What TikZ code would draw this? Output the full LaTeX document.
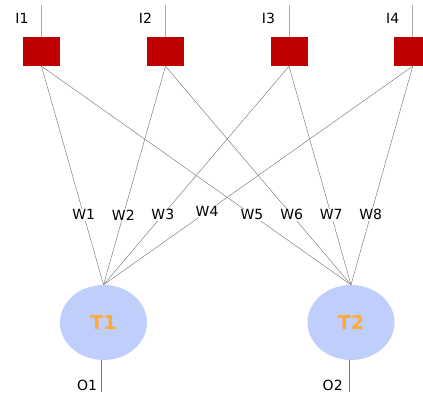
\documentclass[tikz,border=0pt]{standalone}
\usepackage{fontspec}
\setmainfont{DejaVu Sans}
\usetikzlibrary{shapes.geometric}
\definecolor{unitred}{RGB}{190,0,0}
\definecolor{cellblue}{RGB}{192,206,252}
\definecolor{cellorange}{RGB}{255,170,50}
\definecolor{wire}{RGB}{120,120,120}
\definecolor{lead}{RGB}{170,170,170}
\begin{document}
\begin{tikzpicture}[x=1pt,y=-1pt,
  inunit/.style={draw=none,fill=unitred,minimum width=37pt,minimum height=29pt,inner sep=0pt},
  cell/.style={ellipse,fill=cellblue,minimum width=87pt,minimum height=75pt,inner sep=0pt,
    font=\fontsize{19}{21}\selectfont\bfseries,text=cellorange},
  lbl/.style={font=\fontsize{14}{16}\selectfont,inner sep=0.5pt},
  wlbl/.style={lbl,fill=white,inner sep=1pt},
  link/.style={draw=wire,line width=0.45pt},
  leadline/.style={draw=lead,line width=0.9pt},
  outline/.style={draw=wire,line width=0.9pt}]
\useasboundingbox (0,0) rectangle (423,396);
\begin{scope}
\clip (0,0) rectangle (423,396);
% input units
\node[inunit] (u1) at (41.5,51.5) {};
\node[inunit] (u2) at (165.5,51.5) {};
\node[inunit] (u3) at (289,51.5) {};
\node[inunit] (u4) at (412.7,51.5) {};
% input leads
\foreach \i in {1,...,4} {
  \coordinate (t\i) at ([yshift=32pt]u\i.north);
  \draw[leadline] (t\i) -- (u\i.north);
}
\node[lbl] (l1) at (22,18) {I1};
\node[lbl] (l2) at (145.5,18) {I2};
\node[lbl] (l3) at (268.5,18) {I3};
\node[lbl] (l4) at (392.7,18) {I4};
% output cells
\node[cell] (c1) at (103.5,322.5) {T1};
\node[cell] (c2) at (351,322.5) {T2};
% weighted links, each weight sits on its own link
\draw[link] (u1.south) -- node[wlbl,pos=0.68] (w1) {W1} (c1.north);
\draw[link] (u2.south) -- node[wlbl,pos=0.68] (w2) {W2} (c1.north);
\draw[link] (u3.south) -- node[wlbl,pos=0.68] (w3) {W3} (c1.north);
\draw[link] (u4.south) -- node[wlbl,pos=0.665] (w4) {W4} (c1.north);
\draw[link] (u1.south) -- node[wlbl,pos=0.68] (w5) {W5} (c2.north);
\draw[link] (u2.south) -- node[wlbl,pos=0.68] (w6) {W6} (c2.north);
\draw[link] (u3.south) -- node[wlbl,pos=0.68] (w7) {W7} (c2.north);
\draw[link] (u4.south) -- node[wlbl,pos=0.68] (w8) {W8} (c2.north);
% output leads
\coordinate (e1) at (101.7,392);
\coordinate (e2) at (349.3,392);
\draw[outline] ([xshift=-1.8pt]c1.south) -- (e1);
\draw[outline] ([xshift=-1.7pt]c2.south) -- (e2);
\node[lbl] (o1) at (87,385) {O1};
\node[lbl] (o2) at (332.7,385) {O2};
\end{scope}
\end{tikzpicture}
\end{document}
